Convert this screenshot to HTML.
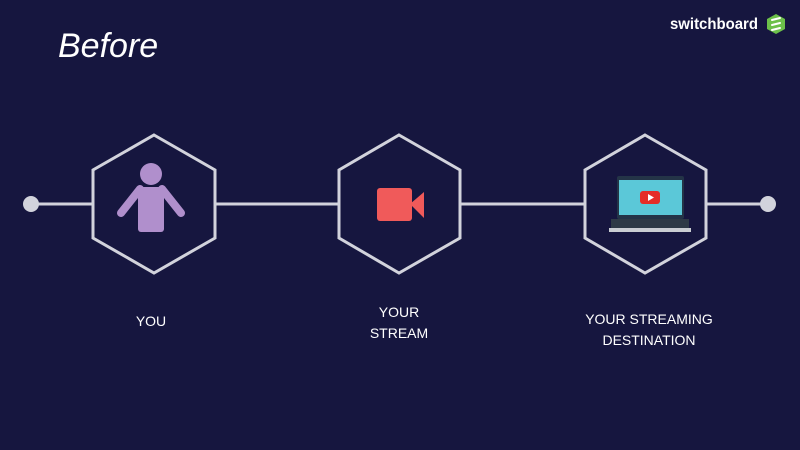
<!DOCTYPE html>
<html><head><style>
html,body{margin:0;padding:0;background:#16163f;width:800px;height:450px;overflow:hidden}
svg{display:block}
text{font-family:"Liberation Sans",sans-serif}
</style></head><body>
<svg width="800" height="450" viewBox="0 0 800 450">
<rect width="800" height="450" fill="#16163f"/>
<text x="58" y="57" font-size="34" font-style="italic" fill="#ffffff">Before</text>
<text x="670" y="29" font-size="16" font-weight="bold" fill="#ffffff" textLength="88" lengthAdjust="spacingAndGlyphs">switchboard</text>
<polygon points="776,14 785,19 785,29 776,34 767,29 767,19" fill="#6cc04a"/>
<g stroke="#fff" stroke-width="2" stroke-linecap="round"><line x1="772" y1="20" x2="780" y2="18"/><line x1="772" y1="25" x2="780" y2="23"/><line x1="772" y1="30" x2="780" y2="28"/></g>
<g stroke="#d2d3dc" stroke-width="3" fill="none">
<line x1="31" y1="204" x2="93" y2="204"/>
<line x1="215" y1="204" x2="339" y2="204"/>
<line x1="460" y1="204" x2="585" y2="204"/>
<line x1="706" y1="204" x2="768" y2="204"/>
<polygon points="154,135 215,170 215,238 154,273 93,238 93,170"/>
<polygon points="399,135 460,170 460,238 399,273 339,238 339,170"/>
<polygon points="645,135 706,170 706,238 645,273 585,238 585,170"/>
</g>
<circle cx="31" cy="204" r="8" fill="#d2d3dc"/>
<circle cx="768" cy="204" r="8" fill="#d2d3dc"/>
<g fill="#b08fcc">
<circle cx="151" cy="174" r="11"/>
<rect x="138" y="187" width="26" height="45" rx="3"/>
<path d="M140 189 L121 213" stroke="#b08fcc" stroke-width="8" stroke-linecap="round"/>
<path d="M162 189 L181 213" stroke="#b08fcc" stroke-width="8" stroke-linecap="round"/>
</g>
<rect x="377" y="188" width="35" height="33" rx="3" fill="#f05a5a"/>
<polygon points="410,204 424,192 424,218" fill="#f05a5a"/>
<rect x="617" y="176" width="67" height="43" rx="2" fill="#243447"/>
<rect x="619" y="180" width="63" height="35" fill="#5bc8d8"/>
<rect x="640" y="191" width="20" height="13" rx="3" fill="#e52d27"/>
<polygon points="648,194 654,197.5 648,201" fill="#fff"/>
<rect x="611" y="219" width="78" height="9" fill="#2e3a46"/>
<rect x="609" y="228" width="82" height="4" fill="#c9cdd2"/>
<g fill="#fff" font-size="14" text-anchor="middle">
<text x="151" y="326">YOU</text>
<text x="399" y="317">YOUR</text>
<text x="399" y="338">STREAM</text>
<text x="649" y="324">YOUR STREAMING</text>
<text x="649" y="345">DESTINATION</text>
</g>
</svg>
</body></html>
